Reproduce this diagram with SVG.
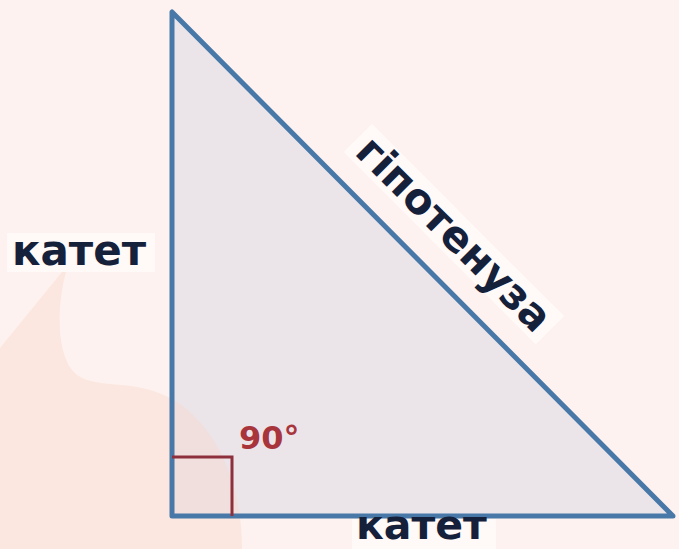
<svg xmlns="http://www.w3.org/2000/svg" width="679" height="549" viewBox="0 0 679 549">
<style>
.lbl{font-family:"DejaVu Sans","Liberation Sans",sans-serif;font-weight:bold;font-size:42px;fill:#15203a}
.ang{font-family:"DejaVu Sans","Liberation Sans",sans-serif;font-weight:bold;font-size:32px;fill:#a8343c}
.lblbg{fill:#fffaf8;opacity:0.85}
</style>
<rect width="679" height="549" fill="#fdf2ef"/>
<g id="triangle">
<polygon points="172,12 172,516 673,516" fill="#ebe5e9"/>
</g>
<path id="blob" d="M62,272 L0,348 L0,549 L242,549 C242,470 205,405 150,390 C118,381 86,388 72,370 C55,348 58,300 66,272 Z" fill="#f8d6c8" opacity="0.4"/>
<g id="triangle-edges">
<polygon points="172,12 172,516 673,516" fill="none" stroke="#4878a8" stroke-width="5" stroke-linejoin="round"/>
</g>
<g id="right-angle">
<polyline points="172,457 232,457 232,516" fill="none" stroke="#8e2f3c" stroke-width="3"/>
<text class="ang" x="239" y="449">90°</text>
</g>
<g id="leg-left">
<rect class="lblbg" x="7" y="233" width="148" height="39"/>
<text class="lbl" x="12" y="265">катет</text>
</g>
<g id="leg-bottom">
<rect class="lblbg" x="352" y="519" width="144" height="30"/>
<text class="lbl" x="356" y="539" style="font-size:41px">катет</text>
</g>
<g id="hypotenuse" transform="translate(444,244) rotate(45)">
<rect class="lblbg" x="-136" y="-34" width="272" height="40" opacity="0.45"/>
<text class="lbl" x="0" y="0" text-anchor="middle">гіпотенуза</text>
</g>
</svg>
